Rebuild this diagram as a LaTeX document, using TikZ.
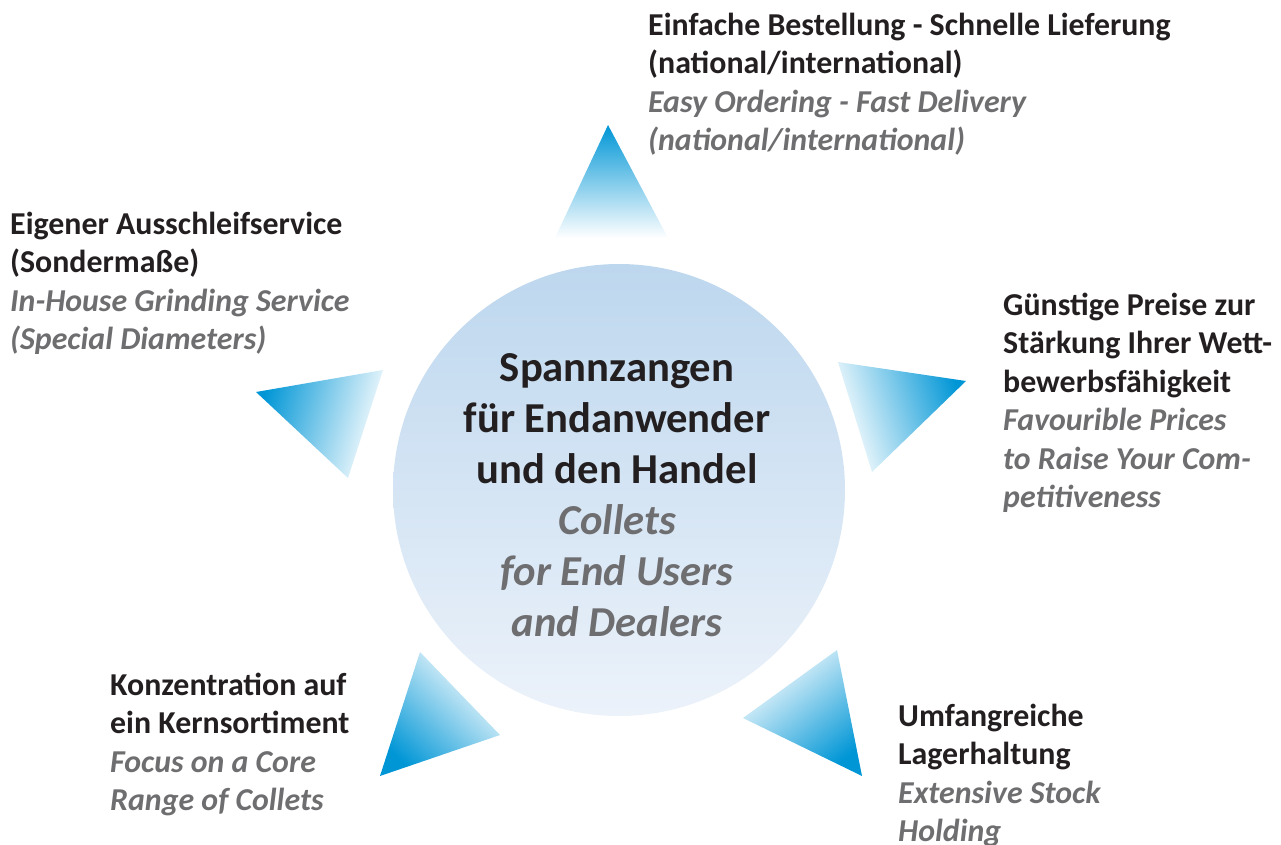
\documentclass[tikz,border=0pt]{standalone}
\usepackage{fontspec}
\setmainfont{Carlito}
\usetikzlibrary{positioning}

\definecolor{tipblue}{RGB}{0,150,214}
\definecolor{discTop}{RGB}{189,215,238}
\definecolor{discBot}{RGB}{236,242,250}
\definecolor{enGray}{RGB}{110,110,112}
\definecolor{deBlack}{RGB}{35,31,32}

\newcommand{\deline}[1]{{\bfseries\color{deBlack}#1}}
\newcommand{\enline}[1]{{\bfseries\itshape\color{enGray}#1}}

\begin{document}
\begin{tikzpicture}[
  x=1bp, y=1bp,
  disc/.style={circle, minimum size=452bp, inner sep=0pt, top color=discTop,
               bottom color=discBot},
  hubtxt/.style={inner sep=0pt, align=center, font=\fontsize{42.8}{51.3}\selectfont},
  lbl/.style={anchor=north west, inner sep=0pt, align=left,
              font=\fontsize{32}{38.5}\selectfont},
  spike/.style={top color=tipblue, bottom color=white},
]
\useasboundingbox (0,0) rectangle (1281,-845);

\node[disc] (hub) at (619,-490) {};
\node[hubtxt] (hubtext) at (617,-495) {\deline{Spannzangen}\\ \deline{für Endanwender}\\
  \deline{und den Handel}\\ \enline{Collets}\\ \enline{for End Users}\\ \enline{and Dealers}};

\shade[spike] (608,-125) -- (555,-238) -- (668,-238) -- cycle;
\shade[spike, shading angle=74] (256,-392) -- (383,-370) -- (348,-478) -- cycle;
\shade[spike, shading angle=-72] (966,-381) -- (838,-362) -- (872,-472) -- cycle;
\shade[spike, shading angle=136] (380,-776) -- (420,-652) -- (500,-735) -- cycle;
\shade[spike, shading angle=-142] (862,-776) -- (837,-650) -- (743,-718) -- cycle;

\node[lbl] (order) at (648,-13) {\deline{Einfache Bestellung - Schnelle Lieferung}\\
  \deline{(national/international)}\\ \enline{Easy Ordering - Fast Delivery}\\
  \enline{(national/international)}};
\node[lbl] (grind) at (10,-212) {\deline{Eigener Ausschleifservice}\\ \deline{(Sondermaße)}\\
  \enline{In-House Grinding Service}\\ \enline{(Special Diameters)}};
\node[lbl] (price) at (1003,-293) {\deline{Günstige Preise zur}\\ \deline{Stärkung Ihrer Wett-}\\
  \deline{bewerbsfähigkeit}\\ \enline{Favourible Prices}\\ \enline{to Raise Your Com-}\\
  \enline{petitiveness}};
\node[lbl] (core) at (110,-673) {\deline{Konzentration auf}\\ \deline{ein Kernsortiment}\\
  \enline{Focus on a Core}\\ \enline{Range of Collets}};
\node[lbl] (stock) at (898,-704) {\deline{Umfangreiche}\\ \deline{Lagerhaltung}\\
  \enline{Extensive Stock}\\ \enline{Holding}};
\end{tikzpicture}
\end{document}
